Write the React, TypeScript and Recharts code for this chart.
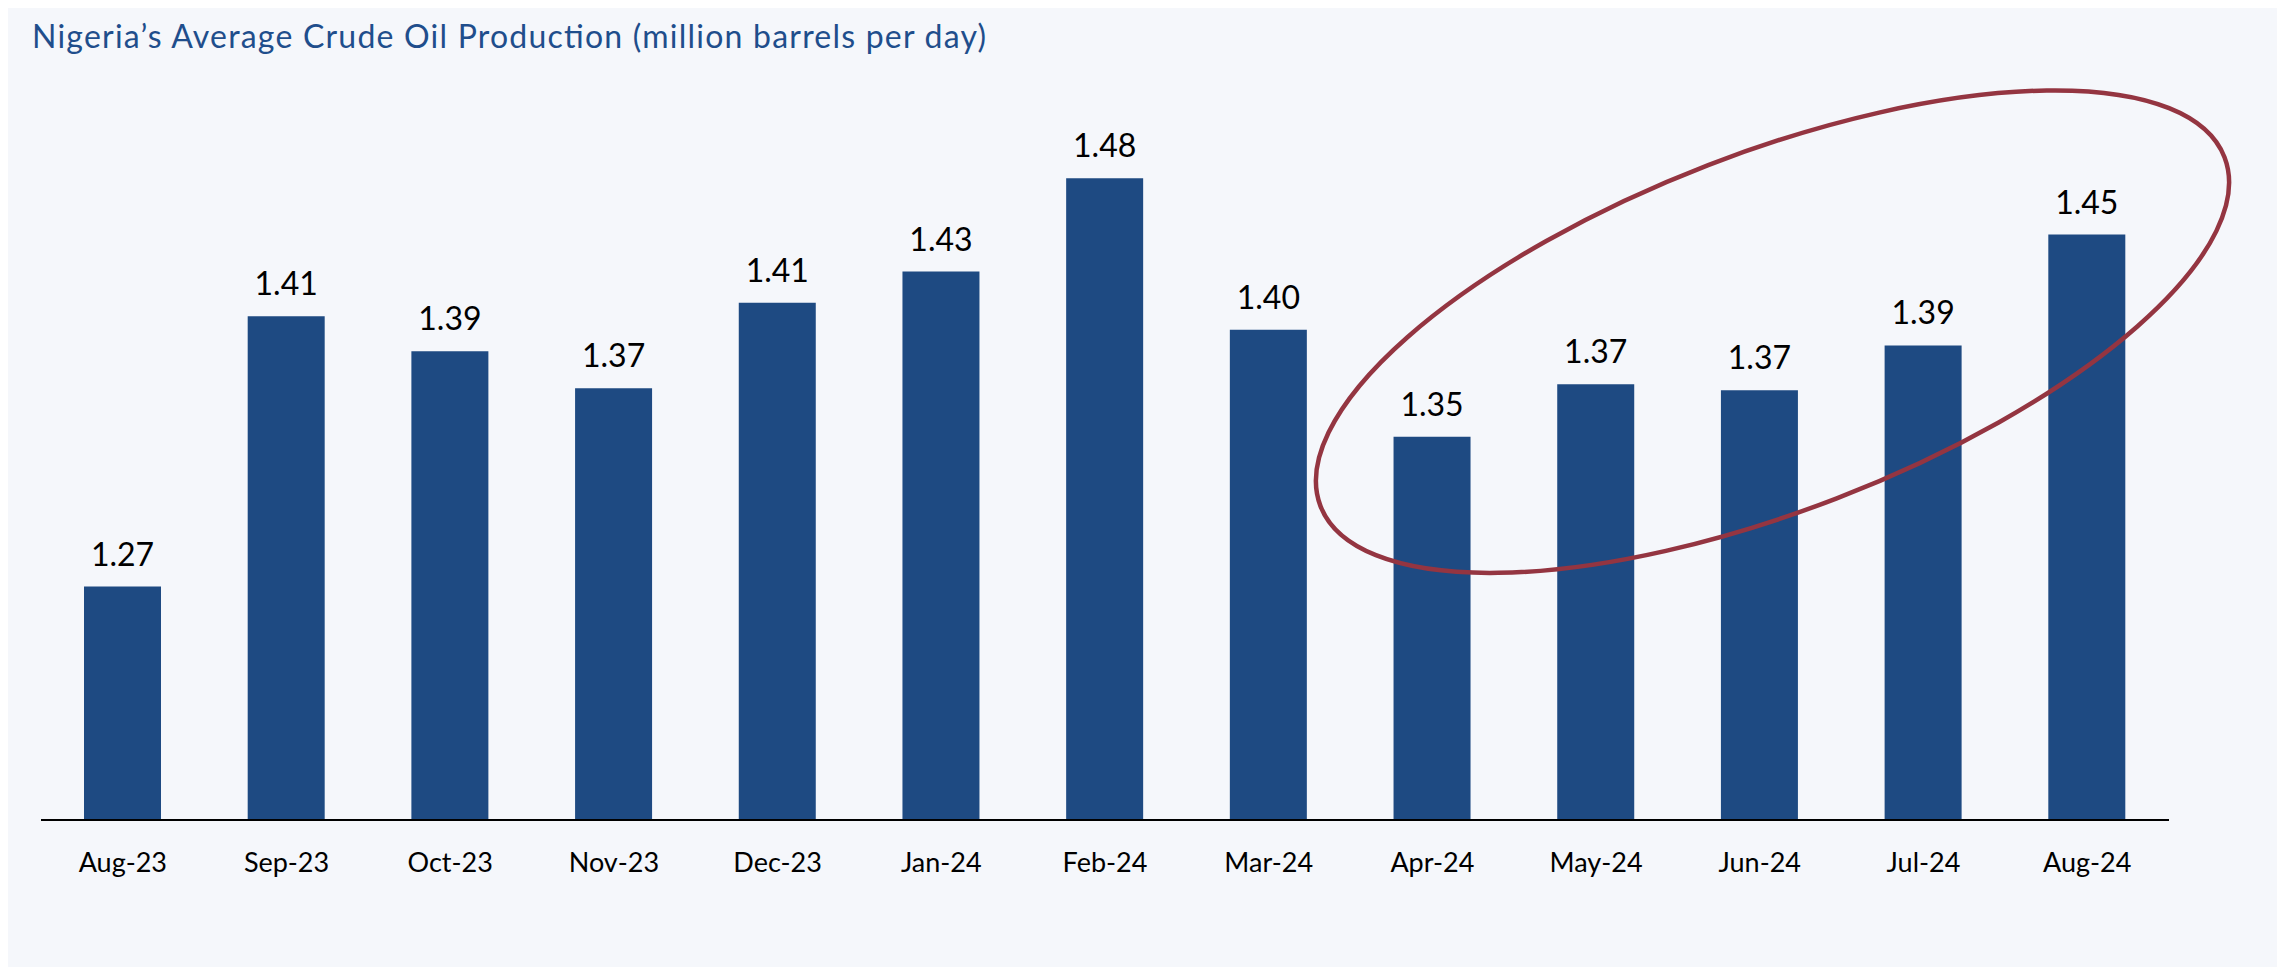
import { BarChart, Bar, XAxis, YAxis, LabelList } from 'recharts'

const months = [
  'Aug-23', 'Sep-23', 'Oct-23', 'Nov-23', 'Dec-23', 'Jan-24', 'Feb-24',
  'Mar-24', 'Apr-24', 'May-24', 'Jun-24', 'Jul-24', 'Aug-24',
]
// bar heights (the printed labels are rounded)
const production = [1.27, 1.409, 1.391, 1.372, 1.416, 1.432, 1.48, 1.402, 1.347, 1.374, 1.371, 1.394, 1.451]
const valueLabels = ['1.27', '1.41', '1.39', '1.37', '1.41', '1.43', '1.48', '1.40', '1.35', '1.37', '1.37', '1.39', '1.45']

const data = months.map((month, i) => ({ month, value: production[i], label: valueLabels[i] }))

const W = 2277
const H = 959
const font = 'Lato, "Noto Sans", sans-serif'

export default function App() {
  return (
    <div style={{ position: 'relative', width: W, height: H, background: '#F5F7FB' }}>
      <BarChart
        width={W}
        height={H}
        data={data}
        margin={{ top: 34, right: 116, bottom: 97, left: 33 }}
        barSize={77}
      >
        <XAxis
          dataKey="month"
          height={50}
          axisLine={{ stroke: '#000', strokeWidth: 2 }}
          tickLine={false}
          tickSize={6}
          tickMargin={27}
          interval={0}
          tick={{ fill: '#000', fontSize: 27, fontFamily: font }}
        />
        <YAxis hide domain={[1.15, 1.55]} />
        <Bar dataKey="value" fill="#1E4A82" isAnimationActive={false}>
          <LabelList
            dataKey="label"
            position="top"
            offset={21}
            style={{ fill: '#000', fontSize: 32, fontFamily: font }}
          />
        </Bar>
      </BarChart>
      <svg
        width={W}
        height={H}
        style={{ position: 'absolute', left: 0, top: 0, pointerEvents: 'none' }}
      >
        <text
          x={24}
          y={40}
          fontSize={32}
          fontFamily={font}
          fill="#1F4E8C"
          textLength={954}
          lengthAdjust="spacing"
        >
          Nigeria’s Average Crude Oil Production (million barrels per day)
        </text>
        <ellipse
          cx={1764.5}
          cy={323.7}
          rx={484.5}
          ry={178.6}
          transform="rotate(-21.1 1764.5 323.7)"
          fill="none"
          stroke="#943541"
          strokeWidth={4.5}
        />
      </svg>
    </div>
  )
}
